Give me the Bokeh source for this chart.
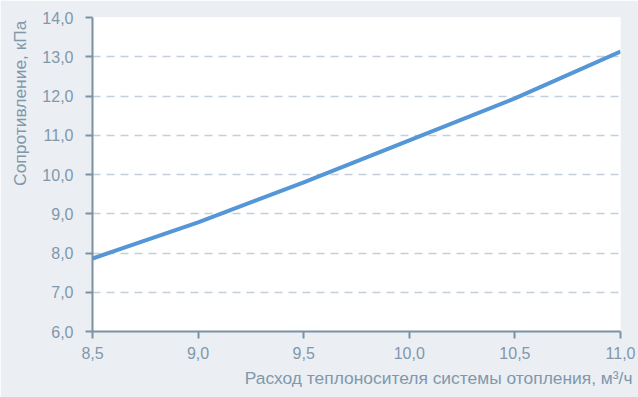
from bokeh.plotting import figure
from bokeh.models import FixedTicker, Range1d, Title
from bokeh.embed import file_html
from bokeh.resources import INLINE

flow = [8.5, 9.0, 9.5, 10.0, 10.5, 11.0]
resistance = [7.86, 8.78, 9.80, 10.87, 11.94, 13.13]
x_ticks = [8.5, 9.0, 9.5, 10.0, 10.5, 11.0]
y_ticks = [6.0, 7.0, 8.0, 9.0, 10.0, 11.0, 12.0, 13.0, 14.0]
x_label = "Расход теплоносителя системы отопления, м³/ч"
y_label = "Сопротивление, кПа"

BG = "#ebeef3"
AXIS = "#7b91a4"
TEXT = "#8198ab"
GRID = "#c3cfda"
LINE = "#5596d6"
FONT = "Liberation Sans"

p = figure(width=638, height=397, output_backend="svg", toolbar_location=None,
           x_range=Range1d(8.5, 11.0), y_range=Range1d(6.0, 14.0),
           min_border_left=92, min_border_right=18, min_border_top=17, min_border_bottom=66)
p.background_fill_color = "white"
p.border_fill_color = BG
p.outline_line_color = None

p.line(flow, resistance, line_color=LINE, line_width=4)

def fmt(v):
    return f"{v:.1f}".replace(".", ",")

for ax, ticks in ((p.xaxis[0], x_ticks), (p.yaxis[0], y_ticks)):
    ax.ticker = FixedTicker(ticks=ticks)
    ax.major_label_overrides = {t: fmt(t) for t in ticks}
    ax.axis_line_color = AXIS
    ax.axis_line_width = 2
    ax.major_tick_line_color = AXIS
    ax.major_tick_line_width = 2
    ax.major_tick_in = 0
    ax.major_tick_out = 7
    ax.minor_tick_line_color = None
    ax.major_label_text_color = TEXT
    ax.major_label_text_font = FONT
    ax.major_label_text_font_size = "16px"

p.xaxis.major_label_standoff = 8
p.yaxis.major_label_standoff = 12

p.add_layout(Title(text=x_label, align="right", vertical_align="bottom", text_color=TEXT,
                   text_font=FONT, text_font_size="17.4px", text_font_style="normal",
                   offset=-12, standoff=8), "below")
p.add_layout(Title(text=y_label, align="right", vertical_align="top", text_color=TEXT,
                   text_font=FONT, text_font_size="17.4px", text_font_style="normal",
                   offset=3, standoff=16), "left")

p.xgrid.grid_line_color = None
p.ygrid.grid_line_color = GRID
p.ygrid.grid_line_dash = "8 6"
p.ygrid.grid_line_width = 1.5

open("out.html", "w").write(file_html(p, INLINE))
